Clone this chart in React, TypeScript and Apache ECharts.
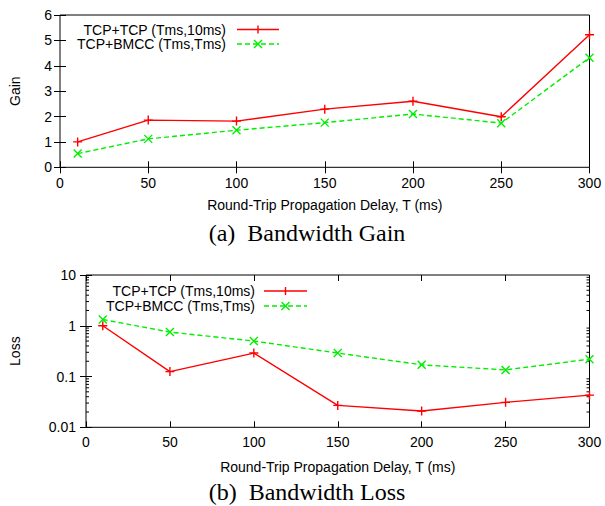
import React, { useEffect, useRef } from "react";
import * as echarts from "echarts";

const delays = [10, 50, 100, 150, 200, 250, 300];
const gainTcpTcp = [1.0, 1.86, 1.82, 2.29, 2.6, 1.99, 5.22];
const gainTcpBmcc = [0.54, 1.12, 1.46, 1.76, 2.1, 1.74, 4.32];
const lossTcpTcp = [1.0, 0.125, 0.29, 0.027, 0.021, 0.031, 0.043];
const lossTcpBmcc = [1.33, 0.75, 0.5, 0.29, 0.17, 0.135, 0.22];
const lossMinorTicks = [
  0.02, 0.03, 0.04, 0.05, 0.06, 0.07, 0.08, 0.09,
  0.2, 0.3, 0.4, 0.5, 0.6, 0.7, 0.8, 0.9,
  2, 3, 4, 5, 6, 7, 8, 9,
];
const seriesNames = ["TCP+TCP (Tms,10ms)", "TCP+BMCC (Tms,Tms)"];
const xTitle = "Round-Trip Propagation Delay, T (ms)";
const captions = ["(a)  Bandwidth Gain", "(b)  Bandwidth Loss"];

const RED = "#ff0000";
const GREEN = "#00ee00";
const SANS = "'Liberation Sans', Arial, Helvetica, sans-serif";
const SERIF = "'Liberation Serif', 'Times New Roman', serif";
const PLUS = "path://M5,0L5,10M0,5L10,5";
const CROSS = "path://M0,0L10,10M0,10L10,0";

const pair = (xs: number[], ys: number[]) => xs.map((x, i) => [x, ys[i]]);

function legendGraphic(textRight: number, lineX1: number, lineX2: number, y1: number, y2: number) {
  const mid = (lineX1 + lineX2) / 2;
  const s = 4;
  return [
    { type: "text", x: textRight, y: y1, style: { text: seriesNames[0], align: "right", verticalAlign: "middle", font: `14px ${SANS}`, fill: "#000" } },
    { type: "text", x: textRight, y: y2, style: { text: seriesNames[1], align: "right", verticalAlign: "middle", font: `14px ${SANS}`, fill: "#000" } },
    { type: "line", shape: { x1: lineX1, y1, x2: lineX2, y2: y1 }, style: { stroke: RED, lineWidth: 1.4 } },
    { type: "line", shape: { x1: mid, y1: y1 - s, x2: mid, y2: y1 + s }, style: { stroke: RED, lineWidth: 1.4 } },
    { type: "line", shape: { x1: lineX1, y1: y2, x2: lineX2, y2 }, style: { stroke: GREEN, lineWidth: 1.4, lineDash: [5, 3] } },
    { type: "line", shape: { x1: mid - s, y1: y2 - s, x2: mid + s, y2: y2 + s }, style: { stroke: GREEN, lineWidth: 1.4 } },
    { type: "line", shape: { x1: mid - s, y1: y2 + s, x2: mid + s, y2: y2 - s }, style: { stroke: GREEN, lineWidth: 1.4 } },
  ];
}

export default function App() {
  const ref = useRef<HTMLDivElement>(null);
  useEffect(() => {
    if (!ref.current) return;
    const chart = echarts.init(ref.current, undefined, { renderer: "svg" });
    const axisLabel = { color: "#000", fontSize: 14, fontFamily: SANS };
    const tick = { show: true, inside: true, length: 6, lineStyle: { color: "#000", width: 1 } };
    const baseX = (grid: number, pos: "bottom" | "top", labels: boolean, gap: number, margin: number) => ({
      type: "value",
      gridIndex: grid,
      position: pos,
      min: 0,
      max: 300,
      interval: 50,
      axisLine: { show: false },
      axisTick: tick,
      splitLine: { show: false },
      axisLabel: { ...axisLabel, show: labels, margin },
      name: labels ? xTitle : "",
      nameLocation: "middle",
      nameGap: gap,
      nameTextStyle: { color: "#000", fontSize: 14, fontFamily: SANS },
    });
    const option: any = {
      animation: false,
      backgroundColor: "#fff",
      grid: [
        { left: 58, top: 15, width: 531.5, height: 152.3, show: true, borderColor: "#000", borderWidth: 1, backgroundColor: "transparent" },
        { left: 85, top: 275, width: 504.5, height: 152.3, show: true, borderColor: "#000", borderWidth: 1, backgroundColor: "transparent" },
      ],
      xAxis: [
        baseX(0, "bottom", true, 31, 9),
        baseX(0, "top", false, 0, 8),
        baseX(1, "bottom", true, 33, 8),
        baseX(1, "top", false, 0, 8),
      ],
      yAxis: [
        {
          type: "value", gridIndex: 0, position: "left", min: 0, max: 6, interval: 1,
          axisLine: { show: false }, axisTick: tick, splitLine: { show: false },
          axisLabel: { ...axisLabel, margin: 8 },
          name: "Gain", nameLocation: "middle", nameGap: 38,
          nameTextStyle: { color: "#000", fontSize: 14, fontFamily: SANS },
        },
        {
          type: "value", gridIndex: 0, position: "right", min: 0, max: 6, interval: 1,
          axisLine: { show: false }, axisTick: tick, splitLine: { show: false },
          axisLabel: { show: false },
        },
        {
          type: "log", logBase: 10, gridIndex: 1, position: "left", min: 0.01, max: 10,
          axisLine: { show: false }, axisTick: tick, splitLine: { show: false },
          axisLabel: { ...axisLabel, margin: 10 },
          name: "Loss", nameLocation: "middle", nameGap: 64,
          nameTextStyle: { color: "#000", fontSize: 14, fontFamily: SANS },
        },
        {
          type: "log", logBase: 10, gridIndex: 1, position: "right", min: 0.01, max: 10,
          axisLine: { show: false }, axisTick: tick, splitLine: { show: false },
          axisLabel: { show: false },
        },
      ],
      series: [
        {
          name: seriesNames[0], type: "line", xAxisIndex: 0, yAxisIndex: 0,
          data: pair(delays, gainTcpTcp),
          symbol: PLUS, symbolSize: 9,
          itemStyle: { color: RED, borderColor: RED, borderWidth: 1.4 },
          lineStyle: { color: RED, width: 1.4 },
        },
        {
          name: seriesNames[1], type: "line", xAxisIndex: 0, yAxisIndex: 0,
          data: pair(delays, gainTcpBmcc),
          symbol: CROSS, symbolSize: 8,
          itemStyle: { color: GREEN, borderColor: GREEN, borderWidth: 1.4 },
          lineStyle: { color: GREEN, width: 1.4, type: [5, 3] },
        },
        {
          name: seriesNames[0], type: "line", xAxisIndex: 2, yAxisIndex: 2,
          data: pair(delays, lossTcpTcp),
          symbol: PLUS, symbolSize: 9,
          itemStyle: { color: RED, borderColor: RED, borderWidth: 1.4 },
          lineStyle: { color: RED, width: 1.4 },
        },
        {
          name: seriesNames[1], type: "line", xAxisIndex: 2, yAxisIndex: 2,
          data: pair(delays, lossTcpBmcc),
          symbol: CROSS, symbolSize: 8,
          itemStyle: { color: GREEN, borderColor: GREEN, borderWidth: 1.4 },
          lineStyle: { color: GREEN, width: 1.4, type: [5, 3] },
        },
        {
          type: "custom", xAxisIndex: 2, yAxisIndex: 2, silent: true, clip: false,
          data: lossMinorTicks.map((v) => [0, v]),
          encode: { x: 0, y: 1 },
          renderItem: (_p: any, api: any) => {
            const v = api.value(1);
            const l = api.coord([0, v]);
            const r = api.coord([300, v]);
            return {
              type: "group",
              children: [
                { type: "line", shape: { x1: l[0], y1: l[1], x2: l[0] + 3, y2: l[1] }, style: { stroke: "#000", lineWidth: 1 } },
                { type: "line", shape: { x1: r[0] - 3, y1: r[1], x2: r[0], y2: r[1] }, style: { stroke: "#000", lineWidth: 1 } },
              ],
            };
          },
        },
      ],
      graphic: [
        ...legendGraphic(226, 237, 279, 29.5, 44),
        ...legendGraphic(255, 264, 307, 291, 306),
        { type: "text", x: 307, y: 233, style: { text: captions[0], align: "center", verticalAlign: "middle", font: `24px ${SERIF}`, lineHeight: 20, fill: "#000" } },
        { type: "text", x: 307, y: 492, style: { text: captions[1], align: "center", verticalAlign: "middle", font: `24px ${SERIF}`, lineHeight: 20, fill: "#000" } },
      ],
    };
    chart.setOption(option);
    return () => chart.dispose();
  }, []);
  return <div ref={ref} style={{ position: "absolute", left: 0, top: 0, width: 605, height: 506 }} />;
}
